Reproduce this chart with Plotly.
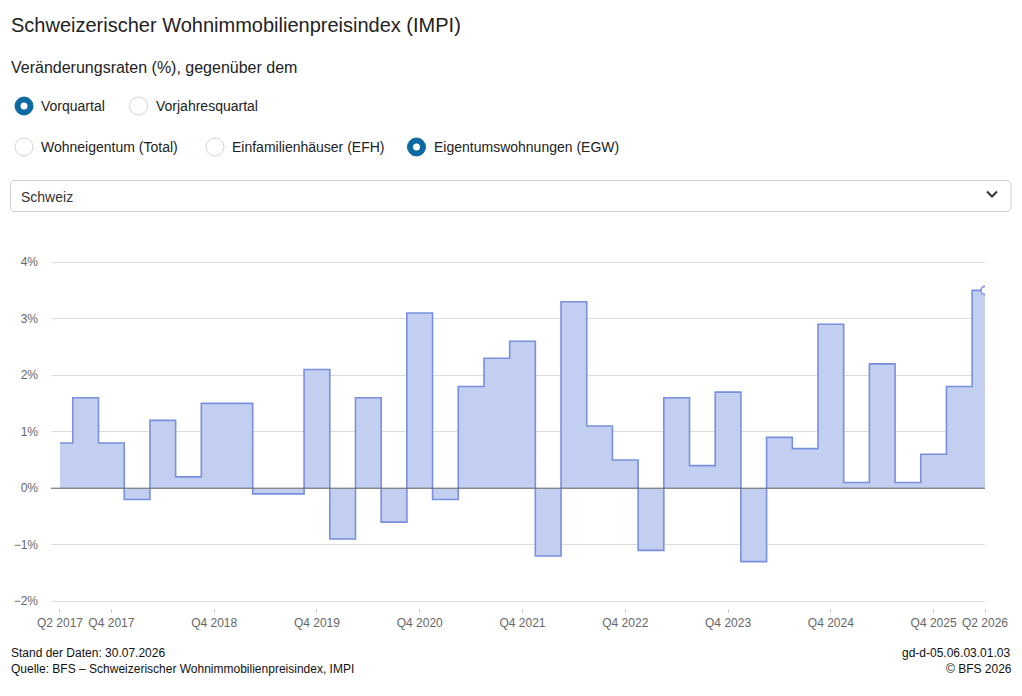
import plotly.graph_objects as go

# ---- data ----
quarters = [f"Q{q} {y}" for y in range(2017, 2027) for q in (1, 2, 3, 4)]
quarters = quarters[quarters.index("Q2 2017"):quarters.index("Q2 2026") + 1]
values = [0.8, 1.6, 0.8, -0.2, 1.2, 0.2, 1.5, 1.5, -0.1, -0.1,
          2.1, -0.9, 1.6, -0.6, 3.1, -0.2, 1.8, 2.3, 2.6, -1.2,
          3.3, 1.1, 0.5, -1.1, 1.6, 0.4, 1.7, -1.3, 0.9, 0.7,
          2.9, 0.1, 2.2, 0.1, 0.6, 1.8, 3.5]
tick_labels = ["Q2 2017", "Q4 2017", "Q4 2018", "Q4 2019", "Q4 2020", "Q4 2021",
               "Q4 2022", "Q4 2023", "Q4 2024", "Q4 2025", "Q2 2026"]
y_ticks = [-2, -1, 0, 1, 2, 3, 4]
y_tick_text = ["−2%", "−1%", "0%", "1%", "2%", "3%", "4%"]

W, H = 1022, 696
L, R, T, B = 51, 37, 261, 88
FONT = "Liberation Sans, Arial, sans-serif"

xs = list(range(len(quarters)))
LINE = "#7890dd"
FILL = "rgba(195,207,241,1)"

fig = go.Figure()
fig.add_trace(go.Scatter(
    x=xs, y=values, mode="lines", line=dict(color=LINE, width=1.6, shape="hvh"),
    fill="tozeroy", fillcolor=FILL, hoverinfo="skip", showlegend=False))
fig.add_trace(go.Scatter(
    x=[xs[-1]], y=[values[-1]], mode="markers",
    marker=dict(size=8, color="white", line=dict(color=LINE, width=1.6)),
    hoverinfo="skip", showlegend=False))

fig.update_layout(
    width=W, height=H, margin=dict(l=L, r=R, t=T, b=B, autoexpand=False),
    paper_bgcolor="white", plot_bgcolor="white",
    font=dict(family=FONT, size=12, color="#666"),
    xaxis=dict(range=[-0.35, len(quarters) - 1], tickvals=[quarters.index(t) for t in tick_labels],
               ticktext=tick_labels, showgrid=False, zeroline=False, ticks="outside",
               ticklen=4, tickcolor="#ccc", tickfont=dict(size=12, color="#666"),
               showline=False, fixedrange=True),
    yaxis=dict(range=[-2.12, 4.02], tickvals=y_ticks, ticktext=y_tick_text,
               showgrid=True, gridcolor="#dcdcdc", gridwidth=1,
               zeroline=False,
               ticks="", ticklabelstandoff=12, tickfont=dict(size=12, color="#666"),
               showline=False, fixedrange=True),
)

# zero line drawn above the filled area
fig.add_shape(type="line", xref="paper", yref="y", x0=0, x1=1, y0=0, y1=0,
              line=dict(color="#666", width=1), layer="above")

pw = W - L - R
ph = H - T - B


def px(x):
    return (x - L) / pw


def py(y):
    return (H - B - y) / ph


def text(x, y, s, size, color="#222", anchor="left"):
    fig.add_annotation(x=px(x), y=py(y), xref="paper", yref="paper", text=s,
                       showarrow=False, xanchor=anchor, yanchor="middle",
                       font=dict(family=FONT, size=size, color=color))


def circle(cx, cy, r, fill, line, lw):
    fig.add_shape(type="circle", xref="paper", yref="paper",
                  x0=px(cx - r), x1=px(cx + r), y0=py(cy + r), y1=py(cy - r),
                  fillcolor=fill, line=dict(color=line, width=lw), layer="above")


text(9, 25, "Schweizerischer Wohnimmobilienpreisindex (IMPI)", 20, "#222")
text(9, 67, "Veränderungsraten (%), gegenüber dem", 16, "#222")

radios = [
    (24, 106, "Vorquartal", True),
    (138.5, 106, "Vorjahresquartal", False),
    (24, 147, "Wohneigentum (Total)", False),
    (215, 147, "Einfamilienhäuser (EFH)", False),
    (416.5, 147, "Eigentumswohnungen (EGW)", True),
]
for cx, cy, lab, sel in radios:
    if sel:
        circle(cx, cy, 9, "#0b6aa2", "#0b6aa2", 1)
        circle(cx, cy, 3.5, "white", "white", 0)
    else:
        circle(cx, cy, 9, "white", "#d4d4d4", 1)
    text(cx + 15, cy, lab, 14, "#222")

# dropdown
fig.add_shape(type="path", xref="paper", yref="paper", layer="above",
              path=(f"M {px(15)},{py(180.5)} L {px(1006)},{py(180.5)} "
                    f"Q {px(1011)},{py(180.5)} {px(1011)},{py(185.5)} L {px(1011)},{py(206.5)} "
                    f"Q {px(1011)},{py(211.5)} {px(1006)},{py(211.5)} L {px(15)},{py(211.5)} "
                    f"Q {px(10.5)},{py(211.5)} {px(10.5)},{py(206.5)} L {px(10.5)},{py(185.5)} "
                    f"Q {px(10.5)},{py(180.5)} {px(15)},{py(180.5)} Z"),
              fillcolor="white", line=dict(color="#cfcfcf", width=1))
text(19, 197, "Schweiz", 14, "#333")
fig.add_shape(type="path", xref="paper", yref="paper", layer="above",
              path=f"M {px(987)},{py(191.5)} L {px(992)},{py(196.5)} L {px(997)},{py(191.5)}",
              line=dict(color="#333", width=2))

# footer
text(9, 653, "Stand der Daten: 30.07.2026", 12, "#111")
text(9, 669, "Quelle: BFS – Schweizerischer Wohnimmobilienpreisindex, IMPI", 12, "#111")
text(1012, 653, "gd-d-05.06.03.01.03", 12, "#111", "right")
text(1014, 669, "© BFS 2026", 12, "#111", "right")

fig.write_html("out.html", config={"displayModeBar": False})
